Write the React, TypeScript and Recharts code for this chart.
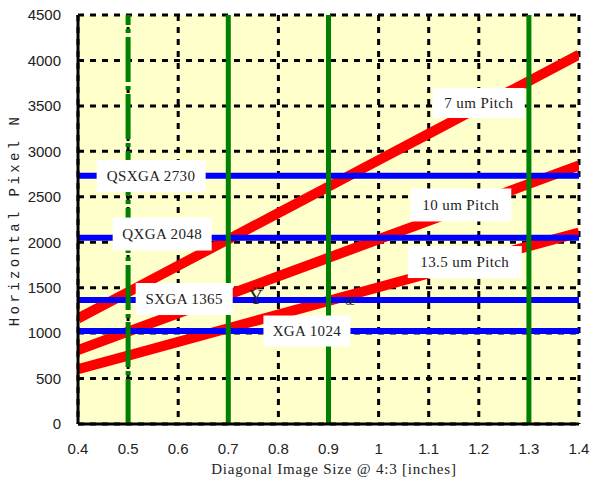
import { LineChart, Line, XAxis, YAxis, CartesianGrid, ReferenceDot } from 'recharts'

const diagonals = [0.4, 0.5, 0.6, 0.7, 0.8, 0.9, 1.0, 1.1, 1.2, 1.3, 1.4]
const pitch7 = [1161, 1451, 1742, 2032, 2322, 2612, 2903, 3193, 3483, 3773, 4064]
const pitch10 = [813, 1016, 1219, 1422, 1626, 1829, 2032, 2235, 2438, 2642, 2845]
const pitch135 = [602, 753, 903, 1054, 1204, 1355, 1505, 1656, 1806, 1957, 2107]

const formats = ['QSXGA', 'QXGA', 'SXGA', 'XGA']
const formatPixels = [2730, 2048, 1365, 1024]
const markerDiagonals = [0.5, 0.7, 0.9, 1.3]

const xTicks = [0.4, 0.5, 0.6, 0.7, 0.8, 0.9, 1, 1.1, 1.2, 1.3, 1.4]
const yTicks = [0, 500, 1000, 1500, 2000, 2500, 3000, 3500, 4000, 4500]

const pitchLabels = ['7 um Pitch', '10 um Pitch', '13.5 um Pitch']

const chartData = diagonals.map((d, i) => ({ x: d, p7: pitch7[i], p10: pitch10[i], p135: pitch135[i] }))

// label boxes: anchor in data coords, box size in px
const boxes = [
  { text: pitchLabels[0], x: 1.2, y: 3532, w: 92, h: 30 },
  { text: pitchLabels[1], x: 1.164, y: 2410, w: 101, h: 33 },
  { text: pitchLabels[2], x: 1.172, y: 1782, w: 114, h: 32 },
  { text: `${formats[0]} ${formatPixels[0]}`, x: 0.546, y: 2729, w: 109, h: 32 },
  { text: `${formats[1]} ${formatPixels[1]}`, x: 0.568, y: 2090, w: 99, h: 33 },
  { text: `${formats[2]} ${formatPixels[2]}`, x: 0.612, y: 1375, w: 97, h: 32 },
  { text: `${formats[3]} ${formatPixels[3]}`, x: 0.857, y: 1023, w: 87, h: 31 },
]

const labelFont = '"Liberation Serif", serif'
const tickFont = '"Liberation Sans", Arial, sans-serif'

function LabelBox({ cx, cy, w, h, text }: any) {
  return (
    <g>
      <rect x={cx - w / 2} y={cy - h / 2} width={w} height={h} fill="#fff" />
      <text x={cx} y={cy + 5} textAnchor="middle" fontSize={15} fontFamily={labelFont} fill="#222" letterSpacing={0.4}>
        {text}
      </text>
    </g>
  )
}

export default function App() {
  return (
    <div style={{ position: 'absolute', left: 0, top: 0, width: 590, height: 484, background: '#fff' }}>
      <LineChart width={590} height={484} data={chartData} margin={{ top: 15, right: 11, bottom: 30, left: 0 }}>
        <CartesianGrid
          fill="#ffffcc"
          stroke="#000"
          strokeWidth={3}
          strokeDasharray="6 6"
          horizontalValues={yTicks}
          verticalValues={xTicks}
        />
        <XAxis
          dataKey="x"
          type="number"
          domain={[0.4, 1.4]}
          ticks={xTicks}
          tickFormatter={(v: number) => String(v)}
          axisLine={{ stroke: '#000', strokeWidth: 3 }}
          tickLine={false}
          tick={{ fill: '#222', fontSize: 15, fontFamily: tickFont }}
          tickMargin={13}
          height={30}
          allowDataOverflow
        />
        <YAxis
          type="number"
          domain={[0, 4500]}
          ticks={yTicks}
          axisLine={{ stroke: '#000', strokeWidth: 3 }}
          tickLine={false}
          tick={{ fill: '#222', fontSize: 15, fontFamily: tickFont }}
          tickMargin={11}
          width={78}
          allowDataOverflow
        />
        <Line dataKey="p7" stroke="#ff0000" strokeWidth={10} dot={false} isAnimationActive={false} />
        <Line dataKey="p10" stroke="#ff0000" strokeWidth={10} dot={false} isAnimationActive={false} />
        <Line dataKey="p135" stroke="#ff0000" strokeWidth={10} dot={false} isAnimationActive={false} />
        {formatPixels.map((p) => (
          <Line
            key={'h' + p}
            data={[{ x: 0.4, y: p }, { x: 1.4, y: p }]}
            dataKey="y"
            stroke="#0000ff"
            strokeWidth={6}
            dot={false}
            isAnimationActive={false}
          />
        ))}
        {markerDiagonals.map((d, i) => (
          <Line
            key={'v' + d}
            data={[{ x: d, y: 0 }, { x: d, y: 4500 }]}
            dataKey="y"
            stroke="#008000"
            strokeWidth={5}
            strokeDasharray={i === 0 ? '45 4 4 4' : undefined}
            dot={false}
            isAnimationActive={false}
          />
        ))}
        {boxes.map((b) => (
          <ReferenceDot
            key={b.text}
            x={b.x}
            y={b.y}
            r={0}
            shape={(p: any) => <LabelBox cx={p.cx} cy={p.cy} w={b.w} h={b.h} text={b.text} />}
          />
        ))}
        <ReferenceDot
          x={0.755}
          y={1408}
          r={0}
          shape={(p: any) => (
            <text x={p.cx} y={p.cy + 8} textAnchor="middle" fontSize={20} fontFamily={labelFont} fill="#222">
              Ÿ
            </text>
          )}
        />
        <ReferenceDot
          x={0.943}
          y={1364}
          r={0}
          shape={(p: any) => (
            <text x={p.cx} y={p.cy + 5} textAnchor="middle" fontSize={14} fontFamily={labelFont} fill="#222">
              œ
            </text>
          )}
        />
      </LineChart>
      <div
        style={{
          position: 'absolute',
          left: 0,
          width: 590,
          top: 461,
          paddingLeft: 78,
          boxSizing: 'border-box',
          textAlign: 'center',
          fontFamily: labelFont,
          fontSize: 15,
          letterSpacing: 0.8,
          color: '#222',
        }}
      >
        Diagonal Image Size @ 4:3 [inches]
      </div>
      <div
        style={{
          position: 'absolute',
          left: 15,
          top: 220,
          transform: 'translate(-50%, -50%) rotate(-90deg)',
          whiteSpace: 'nowrap',
          fontFamily: '"Liberation Mono", monospace',
          fontSize: 14,
          letterSpacing: 3.4,
          color: '#222',
        }}
      >
        Horizontal Pixel N
      </div>
    </div>
  )
}
